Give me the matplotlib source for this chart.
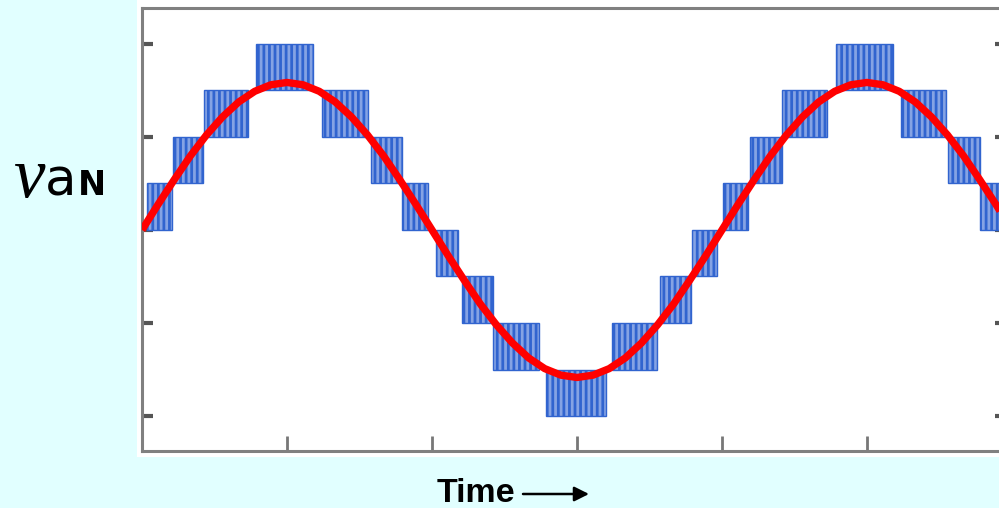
import matplotlib.pyplot as plt
from matplotlib.patches import Rectangle

angle_deg = list(range(0, 541, 10))
ref_wave = [0, 0.55, 1.08, 1.59, 2.04, 2.43, 2.75, 2.98, 3.12, 3.17,
            3.12, 2.98, 2.75, 2.43, 2.04, 1.59, 1.08, 0.55, 0,
            -0.55, -1.08, -1.59, -2.04, -2.43, -2.75, -2.98, -3.12, -3.17,
            -3.12, -2.98, -2.75, -2.43, -2.04, -1.59, -1.08, -0.55, 0,
            0.55, 1.08, 1.59, 2.04, 2.43, 2.75, 2.98, 3.12, 3.17,
            3.12, 2.98, 2.75, 2.43, 2.04, 1.59, 1.08, 0.55, 0]

# PWM switching bands: start / end angle and lower level (each band is one level tall)
band_start = [3, 19, 38.5, 71, 112, 142, 161.5, 182.5, 198.5, 218, 251,
              292, 321.5, 341.5, 360.5, 377.5, 397, 431, 471, 500.5, 520]
band_end = [18.5, 38, 66, 106, 140, 161.5, 177.5, 196, 218, 246.5, 288,
            319.5, 341, 357, 376, 397, 425, 466, 499, 520, 540]
band_low = [0, 1, 2, 3, 2, 1, 0, -1, -2, -3, -4,
            -3, -2, -1, 0, 1, 2, 3, 2, 1, 0]

x_ticks = [90, 180, 270, 360, 450]
y_ticks = [-4, -2, 0, 2, 4]

BG = "#e1ffff"

plt.rcParams["hatch.linewidth"] = 2.0

fig = plt.figure(figsize=(9.99, 5.08), dpi=100, facecolor=BG)

# white panel behind the plot
fig.patches.append(Rectangle((137 / 999, 51 / 508), 1, 1, transform=fig.transFigure,
                             facecolor="white", edgecolor="none", zorder=-5))

ax = fig.add_axes([142 / 999, 57 / 508, 864 / 999, 443 / 508])
ax.set_facecolor("white")

widths = [e - s for s, e in zip(band_start, band_end)]
ax.bar(band_start, [1] * len(band_low), width=widths, bottom=band_low, align="edge",
       facecolor="#85a3e4", edgecolor="#3164cf", linewidth=1.0, hatch="|||", zorder=2)

ax.plot(angle_deg, ref_wave, color="#ff0000", linewidth=5.3, solid_capstyle="butt", zorder=3)

ax.set_xlim(0, 536.3)
ax.set_ylim(-4.75, 4.77)
ax.set_xticks(x_ticks)
ax.set_yticks(y_ticks)
ax.tick_params(axis="x", direction="in", length=11, width=2, color="#777777",
               labelbottom=False)
ax.tick_params(axis="y", direction="in", length=8, width=3, color="#555555",
               left=True, right=True, labelleft=False)
# the right-hand ticks are fainter in the original
for tl in ax.yaxis.get_ticklines()[1::2]:
    tl.set_color("#aaaaaa")
for side in ["top", "bottom", "left", "right"]:
    ax.spines[side].set_color("#808080")
    ax.spines[side].set_linewidth(2.2)

# axis labels
fig.text(13 / 999, 311 / 508, "v", fontsize=51, style="italic",
         family="Liberation Serif", ha="left", va="baseline")
fig.text(45 / 999, 313 / 508, "a", fontsize=37, family="DejaVu Sans",
         ha="left", va="baseline")
fig.text(78 / 999, 313 / 508, "N", fontsize=24, fontweight="bold",
         family="DejaVu Sans", ha="left", va="baseline")

fig.text(437 / 999, 6 / 508, "Time", fontsize=24.5, fontweight="bold",
         family="Liberation Sans", ha="left", va="baseline")
fig.add_artist(plt.Annotation("", xy=(589, 14), xytext=(523, 14),
                              xycoords="figure pixels", textcoords="figure pixels",
                              arrowprops=dict(arrowstyle="-|>", lw=1.8, color="black",
                                              mutation_scale=22, shrinkA=0, shrinkB=0)))

fig.savefig("out.png", dpi=100, facecolor=BG)
